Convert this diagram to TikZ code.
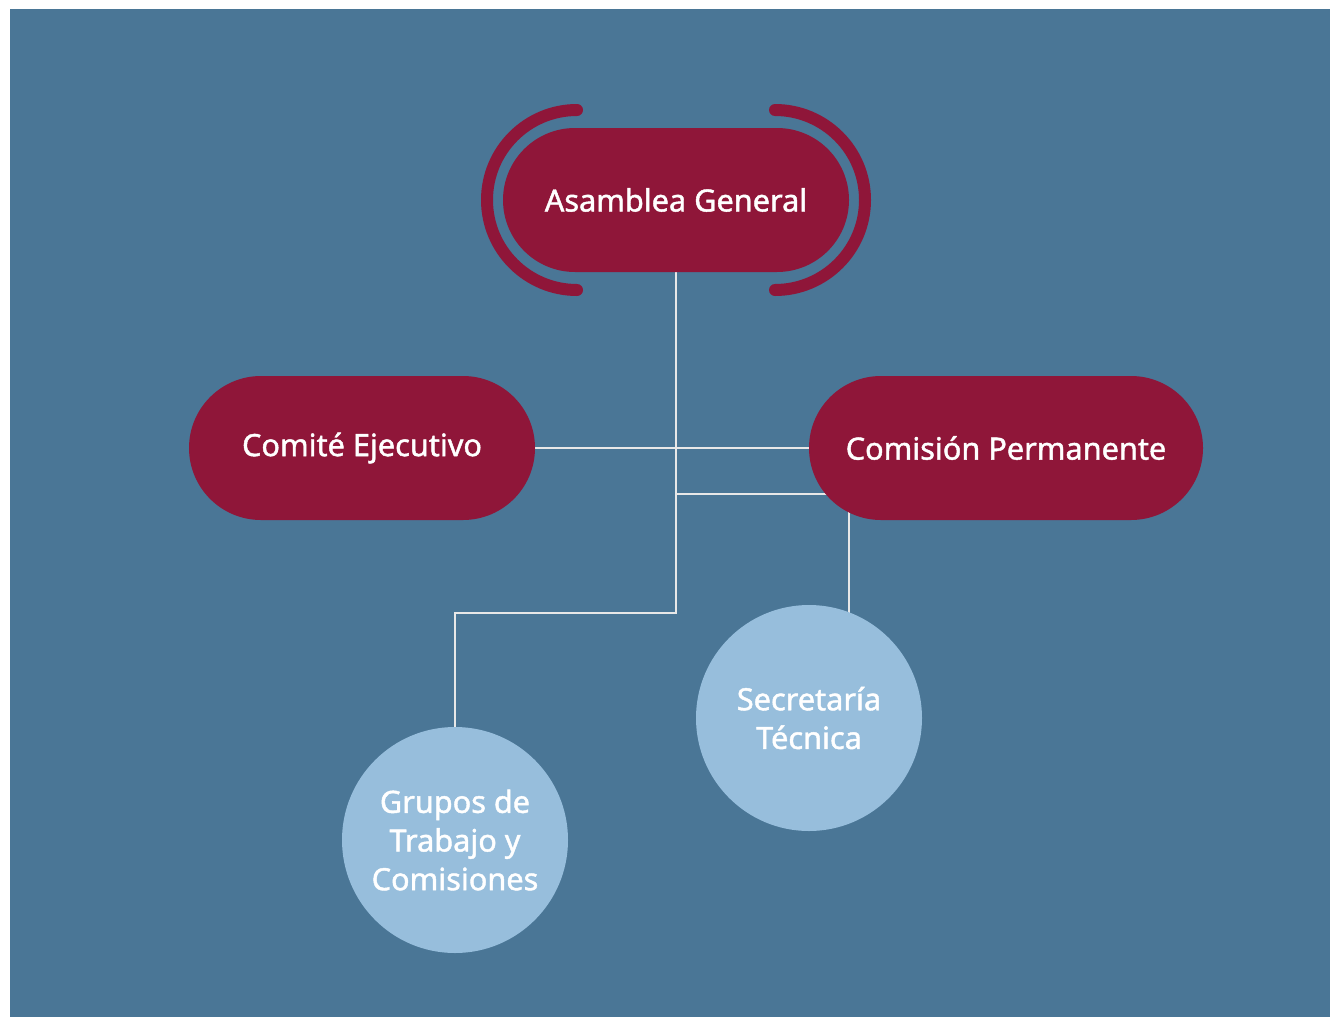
\documentclass[tikz,border=0pt]{standalone}
\usepackage{fontspec}
\setmainfont{Noto Sans}
\newfontface\medfont{Noto Sans}[FakeBold=1.4]
\usetikzlibrary{calc}
\definecolor{bgblue}{HTML}{4A7696}
\definecolor{maroon}{HTML}{8F1639}
\definecolor{lightblue}{HTML}{97BEDC}
\definecolor{linecol}{HTML}{E8E8E8}
\pgfdeclarelayer{back}
\pgfdeclarelayer{lines}
\pgfsetlayers{back,lines,main}
\begin{document}
\begin{tikzpicture}[x=0.75pt,y=-0.75pt,
  pill/.style={rectangle, rounded corners=54pt, fill=maroon, minimum height=108pt, inner sep=0pt, text=white, font=\medfont\fontsize{23pt}{28pt}\selectfont},
  disc/.style={circle, fill=lightblue, minimum size=169.5pt, inner sep=0pt, text=white, align=center, font=\medfont\fontsize{23pt}{29pt}\selectfont},
  bracket/.style={draw=maroon, line width=9pt, line cap=round},
  conn/.style={draw=linecol, line width=1.6pt}]
\useasboundingbox (0,0) rectangle (1330,1017);
\begin{pgfonlayer}{back}
\fill[bgblue] (10,9) rectangle (1330,1017);
\end{pgfonlayer}
\node[pill, minimum width=259.5pt] (ag) at (676,200) {Asamblea General};
\node[pill, minimum width=259.5pt] (ce) at (362,448) {Comité Ejecutivo};
\node[pill, minimum width=295.5pt] (cp) at (1006,448) {Comisión Permanente};
\node[disc] (st) at (809,718) {Secretaría\\Técnica};
\node[disc] (gt) at (455,840) {Grupos de\\Trabajo y\\Comisiones};
\draw[bracket] (ag.center) ++(-99,-90) arc[start angle=270,end angle=90,radius=90];
\draw[bracket] (ag.center) ++(99,-90) arc[start angle=270,end angle=450,radius=90];
\begin{pgfonlayer}{lines}
\coordinate (j1) at (676,613);
\coordinate (j2) at (676,494);
\coordinate (j3) at (849,448);
\draw[conn] (ag.south) -- (j1) -| (gt.north);
\draw[conn] (ce.east) -- (cp.west);
\draw[conn] (j2) -- (j2 -| cp.center);
\draw[conn] (j3) -- (j3 |- st.center);
\end{pgfonlayer}
\end{tikzpicture}
\end{document}
